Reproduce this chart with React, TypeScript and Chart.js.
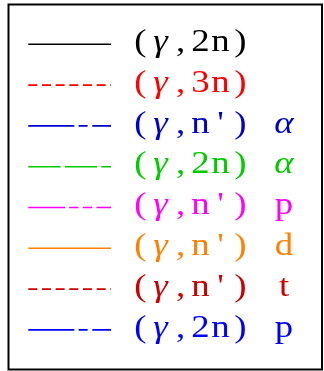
import React, { useEffect, useRef } from "react";
import { Chart, registerables } from "chart.js";

Chart.register(...registerables);

// Legend entries: reaction channel and emitted particle
const reactions = ["(γ,2n)", "(γ,3n)", "(γ,n')", "(γ,2n)", "(γ,n')", "(γ,n')", "(γ,n')", "(γ,2n)"];
const particles = ["", "", "α", "α", "p", "d", "t", "p"];
const seriesColors = ["#000000", "#ff0000", "#0000cc", "#00cc00", "#ff00ff", "#ff8000", "#cc0000", "#0000ff"];
const seriesDashes: number[][] = [
  [],
  [9, 4.67],
  [46, 4.33, 9, 4.67],
  [32.3, 4.2],
  [36.7, 4.2, 9.3, 4.3, 9.3, 4.3],
  [],
  [9, 4.67],
  [46, 4.33, 9, 4.67],
];

const FONT_PX = 32;

const legendPlugin = {
  id: "boxLegend",
  afterDraw(chart: any) {
    const ctx = chart.ctx as CanvasRenderingContext2D;
    ctx.save();
    // frame
    ctx.strokeStyle = "#000";
    ctx.lineWidth = 2;
    ctx.setLineDash([]);
    ctx.strokeRect(8.5, 4.5, 313.5, 365);

    const rowStart = 44.3;
    const rowStep = 40.8;
    const drawGlyph = (c: string, x: number, y: number) => {
      const greek = /[α-ω]/.test(c);
      ctx.font = (greek ? "italic " : "") + FONT_PX + "px 'Liberation Serif'";
      ctx.save();
      ctx.translate(x, y);
      ctx.scale(1.15, 1);
      ctx.fillText(c, 0, 0);
      ctx.restore();
    };
    chart.data.datasets.forEach((ds: any, i: number) => {
      const y = rowStart + i * rowStep;
      ctx.strokeStyle = ds.borderColor;
      ctx.lineWidth = 1.6;
      ctx.lineCap = "butt";
      ctx.setLineDash(ds.borderDash || []);
      ctx.beginPath();
      ctx.moveTo(28.3, y);
      ctx.lineTo(111, y);
      ctx.stroke();
      ctx.setLineDash([]);

      const parts = String(ds.label).split(" ");
      const reaction = parts[0];
      const particle = parts[1] || "";
      ctx.fillStyle = ds.borderColor;
      ctx.textAlign = "center";
      ctx.textBaseline = "alphabetic";
      Array.from(reaction).forEach((c, k) => drawGlyph(c, 140.5 + 20 * k, y + 6.7));
      if (particle) drawGlyph(particle, 284, y + 6.7);
    });
    ctx.restore();
  },
};

export default function App() {
  const ref = useRef<HTMLCanvasElement | null>(null);
  useEffect(() => {
    if (!ref.current) return;
    const chart = new Chart(ref.current, {
      type: "line",
      data: {
        labels: [],
        datasets: reactions.map((r, i) => ({
          label: particles[i] ? `${r} ${particles[i]}` : r,
          data: [],
          borderColor: seriesColors[i],
          backgroundColor: seriesColors[i],
          borderDash: seriesDashes[i],
          borderWidth: 1.6,
        })),
      },
      options: {
        responsive: false,
        animation: false,
        devicePixelRatio: 1,
        scales: { x: { display: false }, y: { display: false } },
        plugins: { legend: { display: false }, tooltip: { enabled: false } },
      },
      plugins: [legendPlugin],
    });
    return () => chart.destroy();
  }, []);
  return (
    <div style={{ position: "fixed", left: 0, top: 0, width: 324, height: 371, background: "#fff" }}>
      <canvas ref={ref} width={324} height={371} style={{ display: "block" }} />
    </div>
  );
}
